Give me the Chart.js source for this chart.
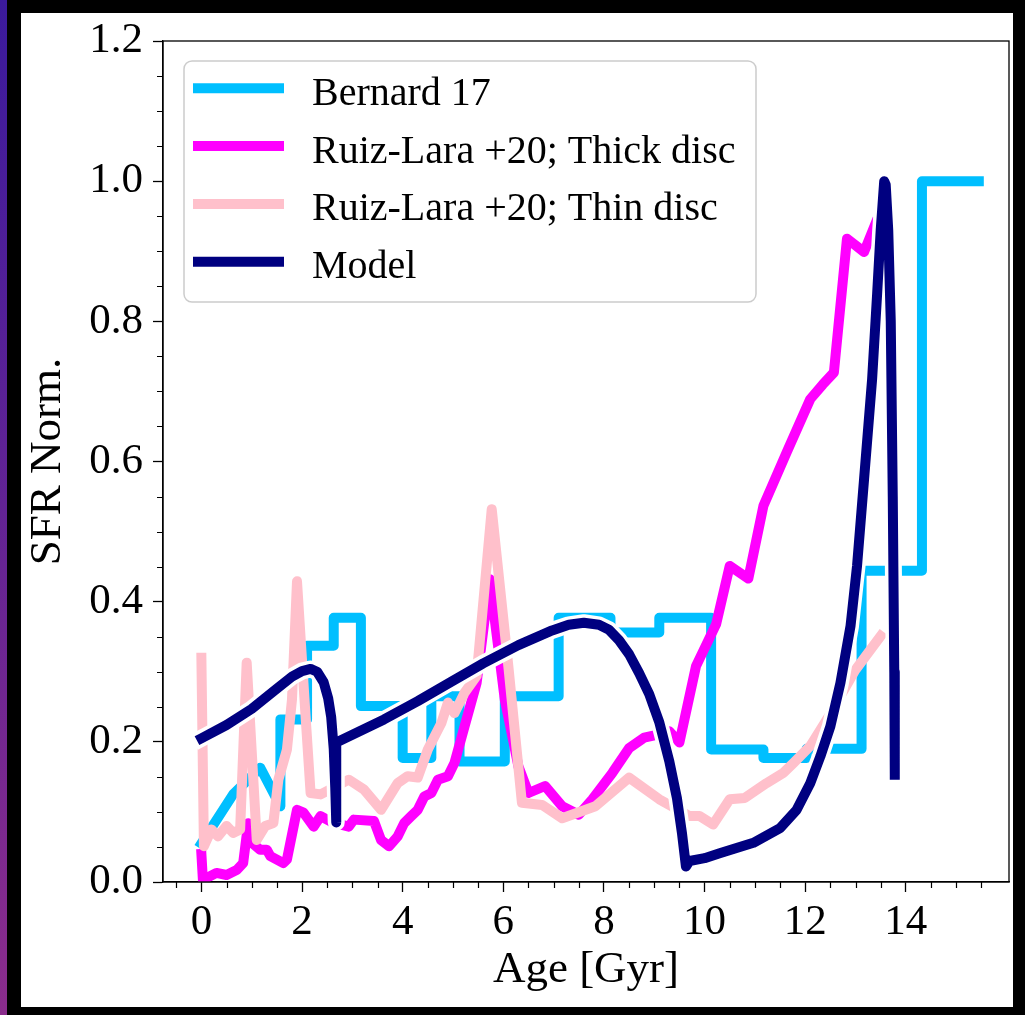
<!DOCTYPE html>
<html>
<head>
<meta charset="utf-8">
<script src="https://cdn.jsdelivr.net/npm/chart.js@4.4.1/dist/chart.umd.min.js"></script>
<style>
  html, body { margin: 0; padding: 0; background: #000; }
  body { width: 1025px; height: 1015px; position: relative; overflow: hidden; }
  #strip { position: absolute; left: 0; top: 0; width: 7px; height: 1015px;
           background: linear-gradient(to bottom, #3b1a9c, #8a2c8c); }
  #sfrChart { position: absolute; left: 21px; top: 13px; background: #fff; }
</style>
</head>
<body>
<div id="strip"></div>
<canvas id="sfrChart" width="992" height="994"></canvas>
<script>
// Bernard 17 (binned SFH, vertical steps written as repeated ages)
const bernardAge = [0, 0.63, 1.17, 1.57, 1.57, 2.1, 2.1, 2.63, 2.63, 3.17, 3.17, 4.0, 4.0, 4.57, 4.57, 5.13, 5.13, 6.03,
    6.03, 7.1, 7.1, 8.13, 8.13, 9.1, 9.1, 10.13, 10.13, 11.17, 11.17, 12.03, 12.03, 13.12, 13.12, 14.32, 14.32, 15.45];
const bernardSfr = [0.055, 0.125, 0.163, 0.108, 0.232, 0.232, 0.337, 0.337, 0.377, 0.377, 0.251, 0.251, 0.177, 0.177,
    0.265, 0.265, 0.172, 0.172, 0.265, 0.265, 0.377, 0.377, 0.356, 0.356, 0.377, 0.377, 0.189, 0.189, 0.177, 0.177,
    0.19, 0.19, 0.444, 0.444, 1.0, 1.0];

// Ruiz-Lara +20, thick disc
const thickAge = [0, 0.03, 0.3, 0.5, 0.7, 0.83, 0.93, 1.0, 1.17, 1.3, 1.37, 1.63, 1.7, 1.9, 2.03, 2.23, 2.37, 2.6,
    2.93, 3.03, 3.43, 3.57, 3.73, 3.9, 4.03, 4.17, 4.3, 4.43, 4.57, 4.7, 4.9, 5.03, 5.23, 5.47, 5.73, 6.03, 6.3, 6.5,
    6.83, 7.17, 7.5, 7.77, 8.17, 8.5, 8.8, 9.05, 9.3, 9.5, 9.83, 10.23, 10.5, 10.87, 11.17, 11.63, 12.1, 12.35,
    12.57, 12.83, 13.17, 13.4];
const thickSfr = [0.04, 0.003, 0.013, 0.01, 0.017, 0.027, 0.084, 0.056, 0.046, 0.046, 0.037, 0.027, 0.032, 0.103,
    0.099, 0.079, 0.094, 0.085, 0.079, 0.089, 0.087, 0.06, 0.051, 0.065, 0.084, 0.094, 0.103, 0.122, 0.127, 0.146,
    0.151, 0.17, 0.222, 0.284, 0.432, 0.26, 0.165, 0.127, 0.137, 0.108, 0.096, 0.118, 0.156, 0.191, 0.206, 0.21,
    0.215, 0.199, 0.308, 0.368, 0.451, 0.433, 0.537, 0.613, 0.689, 0.71, 0.727, 0.918, 0.899, 0.94];

// Ruiz-Lara +20, thin disc
const thinAge = [0, 0.05, 0.2, 0.33, 0.5, 0.63, 0.77, 0.9, 1.1, 1.27, 1.43, 1.53, 1.7, 1.8, 1.9, 2.07, 2.17, 2.37,
    2.93, 3.23, 3.57, 3.9, 4.1, 4.3, 4.5, 4.77, 4.9, 5.03, 5.23, 5.47, 5.77, 6.1, 6.37, 6.77, 7.17, 7.83, 8.5, 9.1,
    9.7, 9.9, 10.17, 10.5, 10.8, 11.23, 11.57, 11.77, 12.1, 12.5, 13.0, 13.5];
const thinSfr = [0.32, 0.051, 0.075, 0.065, 0.08, 0.07, 0.075, 0.313, 0.06, 0.08, 0.084, 0.146, 0.189, 0.26, 0.429,
    0.237, 0.127, 0.125, 0.146, 0.132, 0.103, 0.141, 0.151, 0.149, 0.189, 0.227, 0.256, 0.241, 0.27, 0.294, 0.532,
    0.308, 0.113, 0.11, 0.091, 0.108, 0.149, 0.118, 0.094, 0.094, 0.082, 0.118, 0.12, 0.141, 0.156, 0.17, 0.194,
    0.24, 0.303, 0.351];

// Model
const modelAge = [0, 0.5, 1.0, 1.5, 1.8, 2.0, 2.17, 2.3, 2.43, 2.52, 2.58, 2.63, 2.66, 2.68, 2.68, 3.0, 3.63, 4.3,
    4.97, 5.6, 6.3, 6.97, 7.3, 7.6, 7.9, 8.1, 8.3, 8.5, 8.7, 8.9, 9.1, 9.3, 9.45, 9.55, 9.63, 9.7, 10.0, 10.3, 10.97,
    11.5, 11.83, 12.1, 12.3, 12.5, 12.7, 12.9, 13.03, 13.17, 13.33, 13.43, 13.5, 13.57, 13.6, 13.65, 13.7, 13.74,
    13.77, 13.78];
const modelSfr = [0.205, 0.224, 0.247, 0.276, 0.293, 0.301, 0.304, 0.3, 0.285, 0.262, 0.235, 0.19, 0.135, 0.085,
    0.199, 0.21, 0.232, 0.258, 0.286, 0.312, 0.338, 0.359, 0.367, 0.37, 0.367, 0.36, 0.345, 0.325, 0.298, 0.268,
    0.228, 0.172, 0.12, 0.07, 0.022, 0.03, 0.034, 0.041, 0.056, 0.077, 0.103, 0.141, 0.179, 0.222, 0.284, 0.365,
    0.451, 0.575, 0.718, 0.84, 0.93, 1.0, 0.995, 0.93, 0.8, 0.55, 0.3, 0.153];

const yTicks = [0, 0.2, 0.4, 0.6, 0.8, 1.0, 1.2];
const xTicks = [0, 2, 4, 6, 8, 10, 12, 14];

const serif = "'Liberation Serif', 'Times New Roman', serif";
const toPoints = (xs, ys) => xs.map((x, i) => ({ x: x, y: ys[i] }));

function lineSet(label, xs, ys, color, width, order) {
    return {
        label: label,
        data: toPoints(xs, ys),
        borderColor: color,
        backgroundColor: color,
        borderWidth: width,
        borderCapStyle: 'square',
        borderJoinStyle: 'round',
        pointRadius: 0,
        tension: 0,
        fill: false,
        clip: 0,
        order: order
    };
}

// minor ticks and the full axes frame
const axesFrame = {
    id: 'axesFrame',
    afterDraw(chart) {
        const { ctx, chartArea: a, scales: { x, y } } = chart;
        ctx.save();
        ctx.strokeStyle = '#000';
        ctx.lineWidth = 1.2;
        ctx.beginPath();
        for (let i = -1; i <= 32; i++) {
            if (i % 4 === 0) continue;
            const px = Math.round(x.getPixelForValue(i * 0.5)) + 0.5;
            if (px < a.left || px > a.right - 2) continue;
            ctx.moveTo(px, a.bottom);
            ctx.lineTo(px, a.bottom + 6);
        }
        for (let i = 0; i <= 24; i++) {
            if (i % 4 === 0) continue;
            const py = Math.round(y.getPixelForValue(i * 0.05)) + 0.5;
            ctx.moveTo(a.left - 6, py);
            ctx.lineTo(a.left, py);
        }
        ctx.stroke();
        ctx.lineWidth = 1.3;
        ctx.strokeRect(a.left, a.top, a.right - a.left, a.bottom - a.top);
        ctx.restore();
    }
};

// matplotlib-like legend inside the axes
const legendBox = {
    id: 'legendBox',
    afterDraw(chart) {
        const { ctx, chartArea: a } = chart;
        const items = chart.data.datasets.filter(d => d.label);
        const left = a.left + 21, top = a.top + 20, w = 572, h = 241, r = 8;
        ctx.save();
        ctx.beginPath();
        ctx.roundRect(left, top, w, h, r);
        ctx.fillStyle = 'rgba(255,255,255,0.8)';
        ctx.fill();
        ctx.strokeStyle = '#cccccc';
        ctx.lineWidth = 1.5;
        ctx.stroke();
        ctx.font = '40px ' + serif;
        ctx.textBaseline = 'alphabetic';
        items.forEach((d, i) => {
            const yy = top + 27.3 + i * 57.8;
            ctx.strokeStyle = d.borderColor;
            ctx.lineWidth = 10;
            ctx.lineCap = 'butt';
            ctx.beginPath();
            ctx.moveTo(left + 9, yy);
            ctx.lineTo(left + 100, yy);
            ctx.stroke();
            ctx.fillStyle = '#000';
            ctx.fillText(d.label, left + 128, yy + 16.5);
        });
        ctx.restore();
    }
};

const ctx = document.getElementById('sfrChart').getContext('2d');

const config = {
    type: 'line',
    data: {
        datasets: [
            lineSet('Bernard 17', bernardAge, bernardSfr, '#00BFFF', 10, 4),
            lineSet('Ruiz-Lara +20; Thick disc', thickAge, thickSfr, '#FF00FF', 10, 3),
            lineSet('Ruiz-Lara +20; Thin disc', thinAge, thinSfr, '#FFC0CB', 10, 2),
            lineSet('', modelAge, modelSfr, '#FFFFFF', 17, 1),
            lineSet('Model', modelAge, modelSfr, '#000080', 10, 0)
        ]
    },
    options: {
        responsive: false,
        animation: false,
        layout: { padding: { left: 0, top: 28, right: 4, bottom: 0 } },
        plugins: {
            legend: { display: false },
            tooltip: { enabled: false }
        },
        scales: {
            x: {
                type: 'linear',
                min: -0.763,
                max: 16.05,
                afterFit: (s) => { s.height = 125; },
                afterBuildTicks: (s) => { s.ticks = xTicks.map(v => ({ value: v })); },
                ticks: {
                    font: { family: serif, size: 43 },
                    color: '#000',
                    padding: 5,
                    maxRotation: 0,
                    autoSkip: false,
                    callback: (v) => String(v)
                },
                grid: { drawOnChartArea: false, drawTicks: true, tickLength: 10, tickColor: '#000', tickWidth: 1.3 },
                border: { display: true, color: '#000', width: 1.3 },
                title: {
                    display: true,
                    text: 'Age [Gyr]',
                    color: '#000',
                    font: { family: serif, size: 45 },
                    padding: { top: 0, bottom: 10 }
                }
            },
            y: {
                min: 0,
                max: 1.2,
                afterFit: (s) => { s.width = 142; s.paddingTop = 0; s.paddingBottom = 0; },
                afterBuildTicks: (s) => { s.ticks = yTicks.map(v => ({ value: v })); },
                ticks: {
                    font: { family: serif, size: 43 },
                    color: '#000',
                    padding: 10,
                    autoSkip: false,
                    callback: (v) => Number(v).toFixed(1)
                },
                grid: { drawOnChartArea: false, drawTicks: true, tickLength: 10, tickColor: '#000', tickWidth: 1.3 },
                border: { display: true, color: '#000', width: 1.3 },
                title: {
                    display: true,
                    text: 'SFR Norm.',
                    color: '#000',
                    font: { family: serif, size: 45 },
                    padding: { top: 0, bottom: 0 }
                }
            }
        }
    },
    plugins: [axesFrame, legendBox]
};

const sfrChart = new Chart(ctx, config);
</script>
</body>
</html>
